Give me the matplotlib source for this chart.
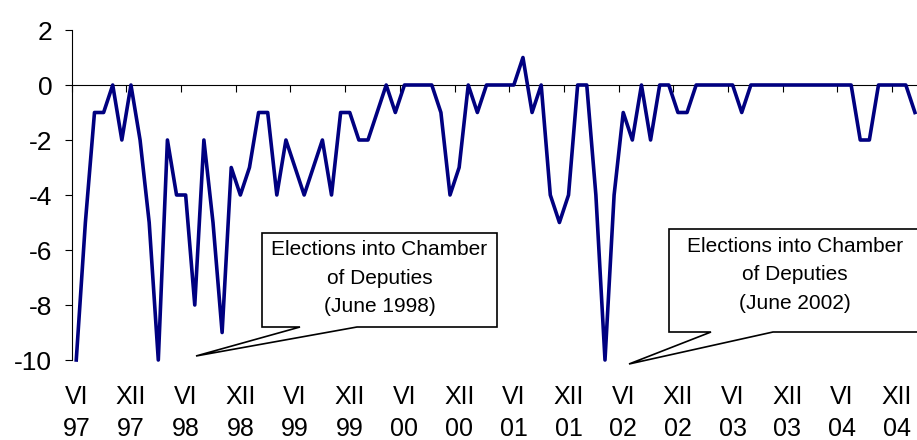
import matplotlib.pyplot as plt
from matplotlib.patches import Polygon

plt.rcParams['font.family'] = ['Liberation Sans', 'DejaVu Sans']

# Monthly values, June 1997 .. February 2005
values = [-10, -5, -1, -1, 0, -2, 0, -2, -5, -10,
          -2, -4, -4, -8, -2, -5, -9, -3, -4, -3,
          -1, -1, -4, -2, -3, -4, -3, -2, -4, -1,
          -1, -2, -2, -1, 0, -1, 0, 0, 0, 0,
          -1, -4, -3, 0, -1, 0, 0, 0, 0, 1,
          -1, 0, -4, -5, -4, 0, 0, -4, -10, -4,
          -1, -2, 0, -2, 0, 0, -1, -1, 0, 0,
          0, 0, 0, -1, 0, 0, 0, 0, 0, 0,
          0, 0, 0, 0, 0, 0, -2, -2, 0, 0,
          0, 0, -1]
months = ['VI', 'XII'] * 8
years = ['97', '97', '98', '98', '99', '99', '00', '00',
         '01', '01', '02', '02', '03', '03', '04', '04']
label_pos = list(range(0, 96, 6))

W, H = 917, 440
fig = plt.figure(figsize=(W / 100, H / 100), dpi=100)
ax = fig.add_axes([71.7 / W, 80 / H, 847.8 / W, 330 / H])

x = list(range(len(values)))
ax.plot(x, values, color='#000080', lw=2.6, zorder=3, clip_on=False)

ax.set_xlim(-0.5, len(values) - 0.5)
ax.set_ylim(-10, 2)

# axis styling
for s in ['top', 'right']:
    ax.spines[s].set_visible(False)
ax.spines['bottom'].set_position(('data', 0))
ax.spines['bottom'].set_linewidth(0.8)
ax.spines['left'].set_linewidth(0.8)

ax.set_xticks([p - 0.5 for p in label_pos])
ax.set_xticklabels([])
ax.tick_params(axis='x', direction='out', length=5, width=0.8)
ax.set_yticks(range(-10, 3, 2))
ax.set_yticklabels([str(v) for v in range(-10, 3, 2)])
ax.tick_params(axis='y', direction='out', length=5, width=0.8, pad=9, labelsize=19)

# category labels at bottom
for p, m, yr in zip(label_pos, months, years):
    ax.text(p, -0.16, m + '\n' + yr, transform=ax.get_xaxis_transform(),
            ha='center', va='center', fontsize=18, linespacing=1.45)

# callout boxes (pixel coordinates from top-left)
def px(pts):
    return [(a / W, 1 - b / H) for a, b in pts]

callouts = [
    ([(262, 233), (497, 233), (497, 327), (357, 327), (196, 356), (300, 327), (262, 327)],
     (379.5, 278), 'Elections into Chamber\nof Deputies\n(June 1998)'),
    ([(669, 229), (925, 229), (925, 332), (773, 332), (629, 364), (711, 332), (669, 332)],
     (795, 275), 'Elections into Chamber\nof Deputies\n(June 2002)'),
]
for pts, (tx, ty), txt in callouts:
    fig.patches.append(Polygon(px(pts), closed=True, facecolor='white',
                               edgecolor='black', lw=1.2,
                               transform=fig.transFigure, zorder=5))
    fig.text(tx / W, 1 - ty / H, txt, ha='center', va='center',
             fontsize=15, linespacing=1.65, zorder=6)

fig.savefig('out.png', dpi=100)
